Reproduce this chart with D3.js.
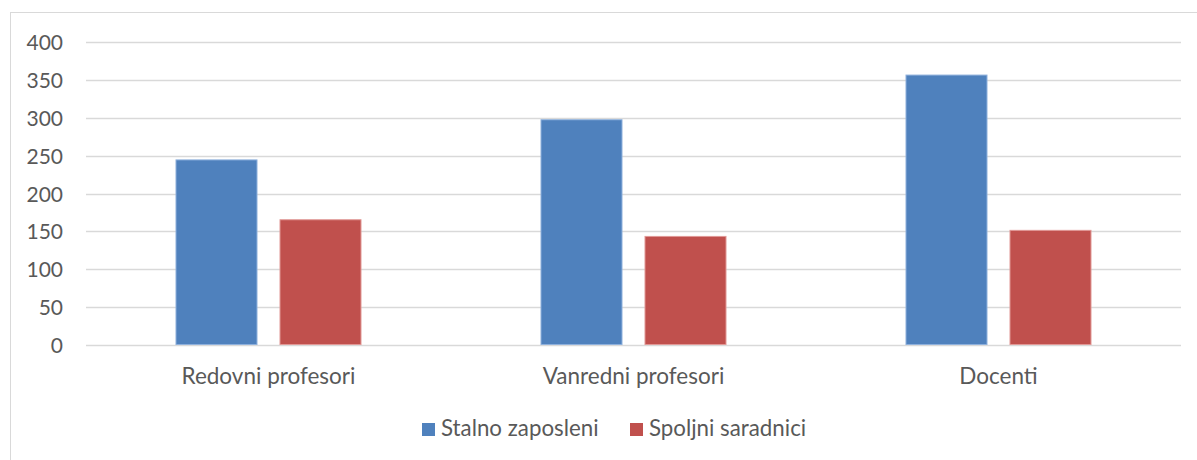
<!DOCTYPE html>
<html lang="en">
<head>
    <meta charset="UTF-8">
    <title>Stalno zaposleni i spoljni saradnici</title>
    <script src="https://d3js.org/d3.v7.min.js"></script>
    <style>
        body { margin: 0; background: #fff; }
        text { font-family: "Lato", "Open Sans", sans-serif; fill: #595959; }
    </style>
</head>
<body>
    <div id="chart-container"></div>
    <script>
        const categories = ["Redovni profesori", "Vanredni profesori", "Docenti"];
        const seriesNames = ["Stalno zaposleni", "Spoljni saradnici"];
        const stalno = [245, 298, 357];
        const spoljni = [166, 144, 152];
        const yTicks = [0, 50, 100, 150, 200, 250, 300, 350, 400];
        const colors = ["#4f81bd", "#c0504d"];
        const strokes = ["#8eb0dc", "#e19896"];

        const W = 1197, H = 460;
        const plot = { left: 86, right: 1181, top: 42, bottom: 345 };

        const svg = d3.select("#chart-container")
            .append("svg")
            .attr("width", W)
            .attr("height", H);

        // chart frame
        svg.append("rect")
            .attr("x", 10.5).attr("y", 12.5)
            .attr("width", 1300).attr("height", 500)
            .attr("fill", "none")
            .attr("stroke", "#d9d9d9");

        const y = d3.scaleLinear().domain([0, 400]).range([plot.bottom, plot.top]);
        const x0 = d3.scaleBand().domain(categories).range([plot.left, plot.right]);
        const groupW = 186;
        const x1 = d3.scaleBand().domain(seriesNames)
            .range([(x0.bandwidth() - groupW) / 2, (x0.bandwidth() + groupW) / 2])
            .paddingInner(0.2115);

        // gridlines
        svg.append("g")
            .selectAll("line")
            .data(yTicks)
            .join("line")
            .attr("x1", plot.left).attr("x2", plot.right)
            .attr("y1", d => Math.round(y(d)) + 0.5)
            .attr("y2", d => Math.round(y(d)) + 0.5)
            .attr("stroke", "#d9d9d9")
            .attr("stroke-width", 1.5);

        // y labels
        svg.append("g")
            .selectAll("text")
            .data(yTicks)
            .join("text")
            .attr("x", 63)
            .attr("y", d => y(d) + 8)
            .attr("text-anchor", "end")
            .style("font-size", "21px")
            .text(d => d);

        const rows = categories.map((c, i) => ({ cat: c, vals: [stalno[i], spoljni[i]] }));

        // bars
        svg.append("g")
            .selectAll("g")
            .data(rows)
            .join("g")
            .attr("transform", d => `translate(${x0(d.cat)},0)`)
            .selectAll("rect")
            .data(d => d.vals.map((v, j) => ({ s: seriesNames[j], v: v, j: j })))
            .join("rect")
            .attr("x", d => x1(d.s) + 0.5)
            .attr("y", d => y(d.v) + 0.5)
            .attr("width", x1.bandwidth() - 1)
            .attr("height", d => y(0) - y(d.v) - 1)
            .attr("fill", d => colors[d.j])
            .attr("stroke", d => strokes[d.j])
            .attr("stroke-width", 1);

        // category labels
        svg.append("g")
            .selectAll("text")
            .data(categories)
            .join("text")
            .attr("x", d => x0(d) + x0.bandwidth() / 2)
            .attr("y", 384)
            .attr("text-anchor", "middle")
            .style("font-size", "22.5px")
            .text(d => d);

        // legend
        const legendX = [422, 630];
        const legend = svg.append("g")
            .selectAll("g")
            .data(seriesNames)
            .join("g")
            .attr("transform", (d, i) => `translate(${legendX[i]},423)`);
        legend.append("rect")
            .attr("width", 13).attr("height", 13)
            .attr("fill", (d, i) => colors[i]);
        legend.append("text")
            .attr("x", 19).attr("y", 13)
            .style("font-size", "22.3px")
            .text(d => d);
    </script>
</body>
</html>
